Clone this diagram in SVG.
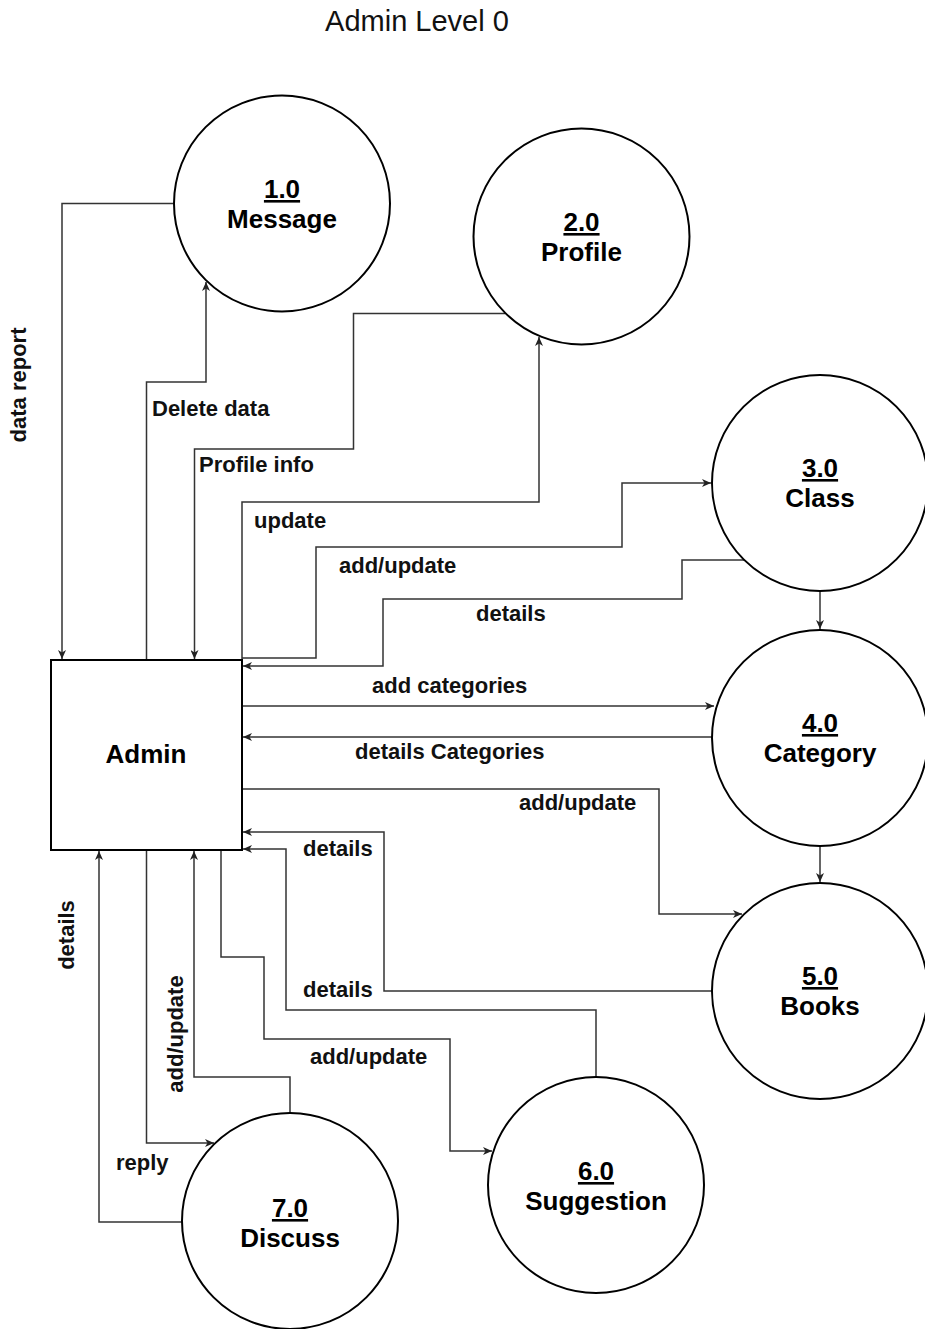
<svg xmlns="http://www.w3.org/2000/svg" width="925" height="1329" viewBox="0 0 925 1329">
<defs>
<style>
.proc{fill:#fff;stroke:#000;stroke-width:2}
.ent{fill:#fff;stroke:#000;stroke-width:2}
.num{font-family:"Liberation Sans",Arial,sans-serif;font-weight:bold;font-size:26px;fill:#000;text-anchor:middle;text-decoration:underline}
.nm{font-family:"Liberation Sans",Arial,sans-serif;font-weight:bold;font-size:26px;fill:#000;text-anchor:middle}
.lbl{font-family:"Liberation Sans",Arial,sans-serif;font-weight:bold;font-size:22px;fill:#111}
.vl{font-family:"Liberation Sans",Arial,sans-serif;font-weight:bold;font-size:22px;fill:#111;text-anchor:middle}
.title{font-family:"Liberation Sans",Arial,sans-serif;font-size:29px;fill:#111;text-anchor:middle}
.edge{fill:none;stroke:#333;stroke-width:1.5;marker-end:url(#arr)}
</style>
<marker id="arr" markerUnits="userSpaceOnUse" markerWidth="10" markerHeight="8" refX="9" refY="4" orient="auto">
<path d="M0,0 L9,4 L0,8 L2.5,4 Z" fill="#222"/>
</marker>
</defs>
<rect width="925" height="1329" fill="#fff"/>
<text class="title" x="417" y="31">Admin Level 0</text>

<g id="connectors">
<path class="edge" d="M173,203.5 H62 V659"/>
<path class="edge" d="M146.5,660 V382 H206 V282"/>
<path class="edge" d="M505,313.5 H353.5 V449 H194.5 V659"/>
<path class="edge" d="M242,660 V502 H539 V337"/>
<path class="edge" d="M242,658 H316 V547 H622 V483 H711"/>
<path class="edge" d="M744,560 H682 V599 H383 V666 H243"/>
<path class="edge" d="M820,591 V629"/>
<path class="edge" d="M243,706 H714"/>
<path class="edge" d="M712,737 H243"/>
<path class="edge" d="M243,789 H659 V914 H742"/>
<path class="edge" d="M820,846 V882"/>
<path class="edge" d="M712,991 H384 V832 H243"/>
<path class="edge" d="M596,1077 V1010 H286 V849 H243"/>
<path class="edge" d="M221,851 V957 H264 V1039 H450 V1151 H492"/>
<path class="edge" d="M290,1113 V1077 H194 V851"/>
<path class="edge" d="M146.5,851 V1143 H214"/>
<path class="edge" d="M182,1222 H99 V851"/>
</g>

<g id="labels">
<text class="vl" transform="translate(26,385) rotate(-90)">data report</text>
<text class="lbl" x="152" y="416">Delete data</text>
<text class="lbl" x="199" y="472">Profile info</text>
<text class="lbl" x="254" y="528">update</text>
<text class="lbl" x="339" y="573">add/update</text>
<text class="lbl" x="476" y="621">details</text>
<text class="lbl" x="372" y="693">add categories</text>
<text class="lbl" x="355" y="759">details Categories</text>
<text class="lbl" x="519" y="810">add/update</text>
<text class="lbl" x="303" y="856">details</text>
<text class="lbl" x="303" y="997">details</text>
<text class="lbl" x="310" y="1064">add/update</text>
<text class="lbl" x="116" y="1170">reply</text>
<text class="vl" transform="translate(74,935) rotate(-90)">details</text>
<text class="vl" transform="translate(183,1034) rotate(-90)">add/update</text>
</g>

<g id="admin">
<rect class="ent" x="51" y="660" width="191" height="190"/>
<text class="nm" x="146" y="763">Admin</text>
</g>

<g id="p1">
<circle class="proc" cx="282" cy="203.5" r="108"/>
<text class="num" x="282" y="198">1.0</text>
<text class="nm" x="282" y="228">Message</text>
</g>
<g id="p2">
<circle class="proc" cx="581.5" cy="236.5" r="108"/>
<text class="num" x="581.5" y="231">2.0</text>
<text class="nm" x="581.5" y="261">Profile</text>
</g>
<g id="p3">
<circle class="proc" cx="820" cy="483" r="108"/>
<text class="num" x="820" y="477">3.0</text>
<text class="nm" x="820" y="507">Class</text>
</g>
<g id="p4">
<circle class="proc" cx="820" cy="738" r="108"/>
<text class="num" x="820" y="732">4.0</text>
<text class="nm" x="820" y="762">Category</text>
</g>
<g id="p5">
<circle class="proc" cx="820" cy="991" r="108"/>
<text class="num" x="820" y="985">5.0</text>
<text class="nm" x="820" y="1015">Books</text>
</g>
<g id="p6">
<circle class="proc" cx="596" cy="1185" r="108"/>
<text class="num" x="596" y="1180">6.0</text>
<text class="nm" x="596" y="1210">Suggestion</text>
</g>
<g id="p7">
<circle class="proc" cx="290" cy="1221" r="108"/>
<text class="num" x="290" y="1217">7.0</text>
<text class="nm" x="290" y="1247">Discuss</text>
</g>
</svg>
